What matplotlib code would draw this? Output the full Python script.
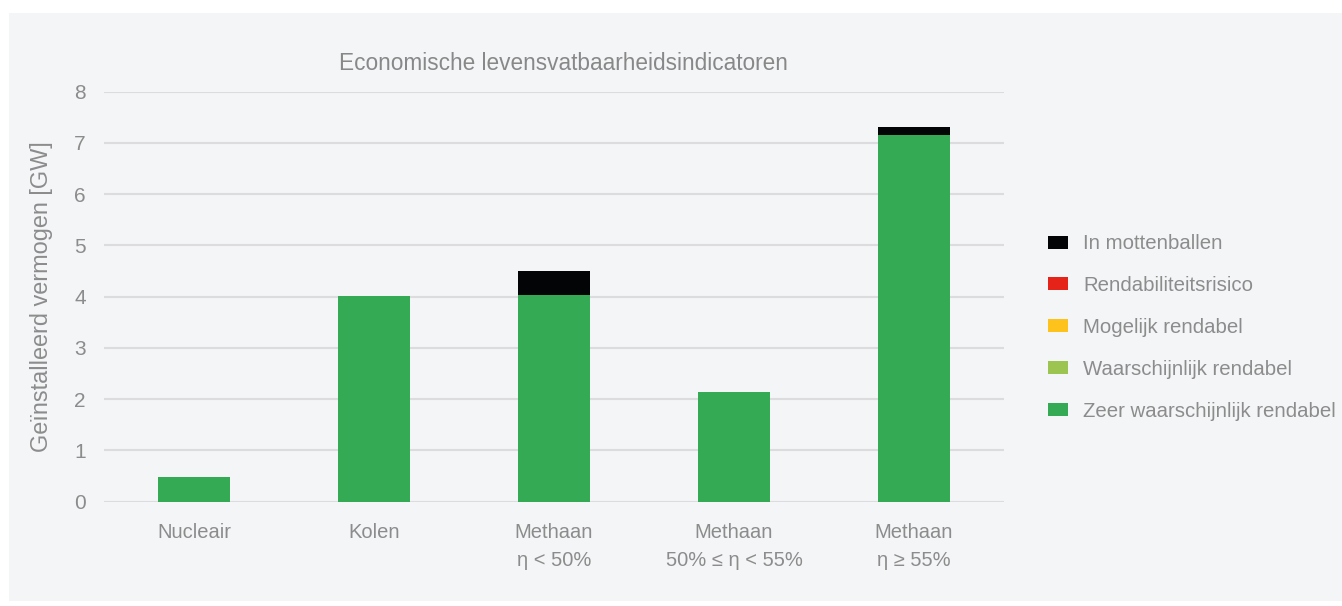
import matplotlib
matplotlib.use("Agg")
import matplotlib.pyplot as plt
from matplotlib.patches import Rectangle, Patch
import numpy as np

plt.rcParams['font.family'] = ['Liberation Sans', 'DejaVu Sans']

categories = ["Nucleair", "Kolen", "Methaan\nη < 50%", "Methaan\n50% ≤ η < 55%", "Methaan\nη ≥ 55%"]

# Installed capacity per viability class [GW], bottom of the stack first
zeer_waarschijnlijk = [0.48, 4.02, 4.03, 2.14, 7.16]
waarschijnlijk = [0.0, 0.0, 0.0, 0.0, 0.0]
mogelijk = [0.0, 0.0, 0.0, 0.0, 0.0]
risico = [0.0, 0.0, 0.0, 0.0, 0.0]
mottenballen = [0.0, 0.0, 0.47, 0.0, 0.14]

series_names = ["Zeer waarschijnlijk rendabel", "Waarschijnlijk rendabel",
                "Mogelijk rendabel", "Rendabiliteitsrisico", "In mottenballen"]
series_values = [zeer_waarschijnlijk, waarschijnlijk, mogelijk, risico, mottenballen]
series_colors = ["#33aa53", "#9bc550", "#fdc31c", "#e52318", "#030406"]

yticks = [0, 1, 2, 3, 4, 5, 6, 7, 8]

W, H = 1342, 606
fig = plt.figure(figsize=(W / 100, H / 100), dpi=100)
fig.patch.set_facecolor("white")

# light panel behind the chart
fig.patches.append(Rectangle((9 / W, 1 - 601 / H), (W - 9) / W, (601 - 13) / H,
                             transform=fig.transFigure, facecolor="#f4f5f7",
                             edgecolor="none", zorder=-10))

ax = fig.add_axes([104 / W, 1 - 501.7 / H, 900 / W, (501.7 - 91.6) / H])
ax.set_facecolor("none")
ax.set_zorder(1)

text_color = "#8c8c8c"
x = np.arange(len(categories))
bottom = np.zeros(len(categories))
for name, vals, col in zip(series_names, series_values, series_colors):
    vals = np.array(vals)
    ax.bar(x, vals, width=0.4, bottom=bottom, color=col, label=name, zorder=3)
    bottom += vals

ax.set_xlim(-0.5, len(categories) - 0.5)
ax.set_ylim(0, 8)
ax.set_yticks(yticks)
ax.set_xticks(x)
ax.set_xticklabels(categories, fontsize=14.5, color=text_color, linespacing=1.6)
ax.tick_params(axis="both", length=0, labelsize=14.5, labelcolor=text_color)
ax.tick_params(axis="y", labelsize=15, pad=13)
ax.tick_params(axis="x", pad=15)
ax.grid(axis="y", color="#dcdcde", linewidth=1.5, zorder=0)
for s in ax.spines.values():
    s.set_visible(False)

ax.set_ylabel("Geïnstalleerd vermogen [GW]", fontsize=16.9, color=text_color)
ax.yaxis.set_label_coords(-0.057, 0.5)

fig.text(563 / W, 1 - 64 / H, "Economische levensvatbaarheidsindicatoren",
         ha="center", va="center", fontsize=16.3, color="#888888")

handles = [Patch(facecolor=c, edgecolor="none") for c in series_colors][::-1]
labels = series_names[::-1]
fig.legend(handles, labels, loc="center left",
           bbox_to_anchor=(1030 / W, 1 - 327.5 / H), frameon=False,
           fontsize=14.7, labelcolor=text_color, handlelength=0.95,
           handleheight=0.6, handletextpad=0.75, labelspacing=1.12)

fig.savefig("out.png", dpi=100, facecolor=fig.get_facecolor())
